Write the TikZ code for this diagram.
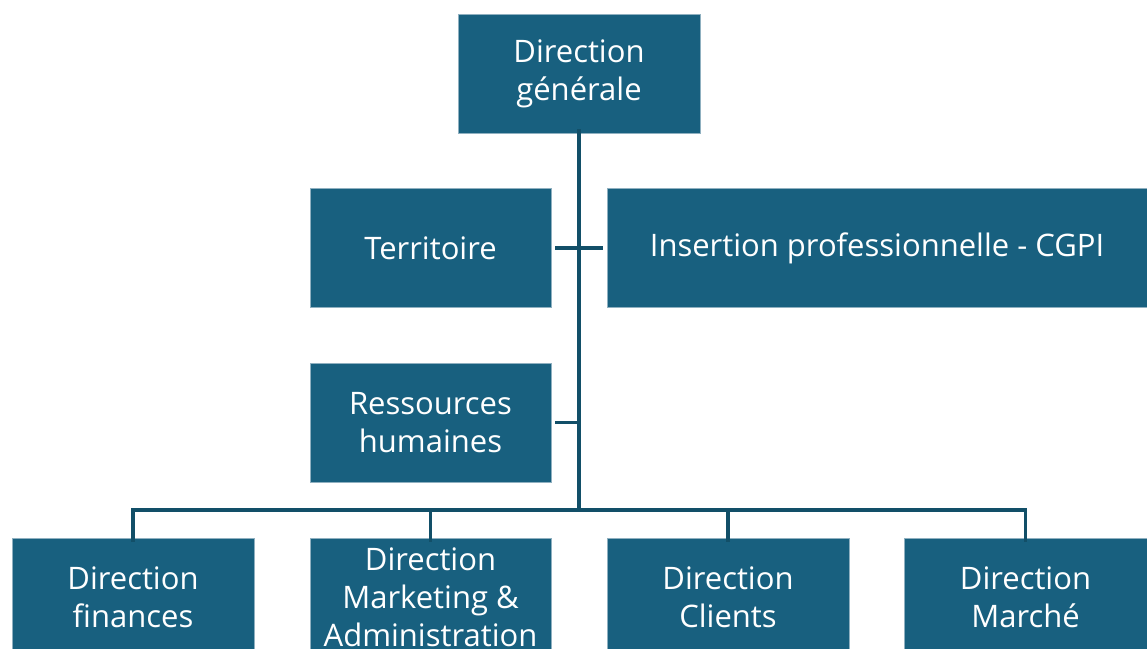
\documentclass[tikz,border=0pt]{standalone}
\usepackage{fontspec}
\setmainfont{Open Sans}
\definecolor{boxfill}{HTML}{18607F}
\definecolor{boxedge}{HTML}{8FB0C0}
\definecolor{linecol}{HTML}{124F68}
\begin{document}
\begin{tikzpicture}[x=1pt,y=-1pt,
  orgbox/.style={draw=boxedge,line width=0.8pt,fill=boxfill,text=white,align=center,
    minimum height=119pt,inner sep=0pt,font=\fontsize{31}{38}\selectfont},
  conn/.style={draw=linecol,line width=3.5pt}]
\useasboundingbox (0,0) rectangle (1147,648);
\clip (0,0) rectangle (1147,648);
\fill[white] (0,0) rectangle (1147,648);
\node[orgbox,minimum width=242pt] (dg) at (579,73.5) {Direction\\générale};
\node[orgbox,minimum width=241pt] (ter) at (430.5,248) {Territoire};
\node[orgbox,minimum width=540pt] (ins) at (877,248) {Insertion professionnelle - CGPI};
\node[orgbox,minimum width=241pt] (rh) at (430.5,422.5) {Ressources\\humaines};
\node[orgbox,minimum width=242pt] (fin) at (133,597.5) {Direction\\finances};
\node[orgbox,minimum width=241pt] (mkt) at (430.5,597.5) {Direction\\Marketing \&\\Administration};
\node[orgbox,minimum width=242pt] (cli) at (728,597.5) {Direction\\Clients};
\node[orgbox,minimum width=243pt] (mar) at (1025.5,597.5) {Direction\\Marché};
\coordinate (bus) at (579,510);
\draw[conn] ([yshift=4pt]dg.south) -- (bus);
\draw[conn] ([xshift=4pt]ter.east) -- ([xshift=-4pt]ins.west);
\draw[conn] ([xshift=4pt]rh.east) -- (579,422.5);
\draw[conn] ([yshift=-4pt]fin.north) |- (bus);
\draw[conn] ([yshift=-4pt]mkt.north) -- (mkt.north |- bus);
\draw[conn] ([yshift=-4pt]cli.north) -- (cli.north |- bus);
\draw[conn] ([yshift=-4pt]mar.north) |- (bus);
\end{tikzpicture}
\end{document}
